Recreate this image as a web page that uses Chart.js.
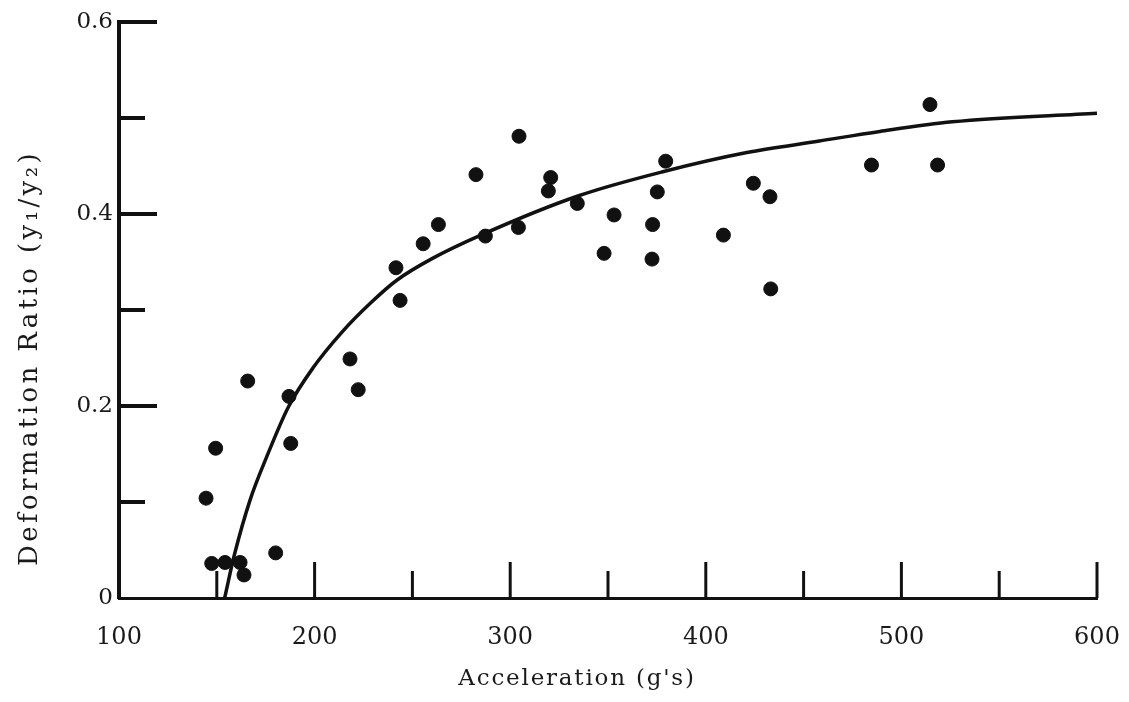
<!DOCTYPE html>
<html>
<head>
<meta charset="utf-8">
<title>Deformation Ratio vs Acceleration</title>
<script src="https://cdn.jsdelivr.net/npm/chart.js@4/dist/chart.umd.min.js"></script>
<style>
  html, body { margin: 0; padding: 0; background: #fff; }
  #wrap { width: 1129px; height: 702px; }
</style>
</head>
<body>
<div id="wrap"><canvas id="deformChart" width="1129" height="702"></canvas></div>
<script>
// ==== Data ====
// measured points: acceleration (g's) and deformation ratio y1/y2
const accelX = [144.5, 149.4, 147.4, 154.2, 161.9, 163.9, 165.8, 180.1, 186.9, 187.8,
  218.1, 222.3, 241.6, 243.7, 255.5, 263.3, 282.5, 287.3, 304.5, 304.2,
  320.7, 319.5, 334.3, 348.0, 353.1, 372.5, 372.8, 375.2, 379.5, 409.0,
  424.3, 432.8, 433.2, 484.7, 514.6, 518.5];
const ratioY = [0.104, 0.156, 0.036, 0.037, 0.037, 0.024, 0.226, 0.047, 0.210, 0.161,
  0.249, 0.217, 0.344, 0.310, 0.369, 0.389, 0.441, 0.377, 0.481, 0.386,
  0.438, 0.424, 0.411, 0.359, 0.399, 0.353, 0.389, 0.423, 0.455, 0.378,
  0.432, 0.418, 0.322, 0.451, 0.514, 0.451];

// faired curve drawn through the data
const curveX = [154, 159, 167, 175.5, 186.6, 199.3, 214, 229, 242, 260.5,
  285, 335, 378, 421, 458, 489, 526, 600];
const curveY = [0, 0.045, 0.102, 0.147, 0.199, 0.240, 0.277, 0.308, 0.331, 0.354,
  0.378, 0.419, 0.444, 0.464, 0.476, 0.486, 0.496, 0.505];

// axis ticks
const xTickLabels = [100, 200, 300, 400, 500, 600];
const yTickLabels = [0, 0.2, 0.4, 0.6];
const xMarks = [150, 200, 250, 300, 350, 400, 450, 500, 550, 600];
const yMarks = [0.1, 0.2, 0.3, 0.4, 0.5, 0.6];

const xTitle = "Acceleration (g's)";
const yTitle = 'Deformation Ratio (y\u2081/y\u2082)';

const INK = '#111';
Chart.defaults.font.family = "'DejaVu Serif', 'Liberation Serif', serif";
Chart.defaults.color = '#1a1a1a';

// inward tick marks, long on the labelled values
const innerTicks = {
  id: 'innerTicks',
  afterDatasetsDraw(chart) {
    const { ctx, chartArea, scales } = chart;
    ctx.save();
    ctx.strokeStyle = INK;
    ctx.lineCap = 'butt';

    ctx.lineWidth = 4;
    yMarks.forEach(v => {
      const y = scales.y.getPixelForValue(v);
      const major = yTickLabels.includes(v);
      ctx.beginPath();
      ctx.moveTo(chartArea.left, y);
      ctx.lineTo(chartArea.left + (major ? 38 : 26), y);
      ctx.stroke();
    });

    ctx.lineWidth = 3;
    xMarks.forEach(v => {
      const x = scales.x.getPixelForValue(v);
      const major = xTickLabels.includes(v);
      ctx.beginPath();
      ctx.moveTo(x, chartArea.bottom);
      ctx.lineTo(x, chartArea.bottom - (major ? 36 : 27));
      ctx.stroke();
    });
    ctx.restore();
  }
};

// axis titles, typewriter-ish spacing
const axisTitles = {
  id: 'axisTitles',
  afterDraw(chart) {
    const { ctx } = chart;
    ctx.save();
    ctx.fillStyle = '#1a1a1a';
    ctx.textAlign = 'center';
    ctx.textBaseline = 'middle';

    ctx.font = "23px 'DejaVu Serif', serif";
    ctx.letterSpacing = '1.8px';
    ctx.fillText(xTitle, 577, 679);

    ctx.translate(30, 358);
    ctx.rotate(-Math.PI / 2);
    ctx.font = "26px 'DejaVu Serif', serif";
    ctx.letterSpacing = '3.4px';
    ctx.fillText(yTitle, 0, 0);
    ctx.restore();
  }
};

new Chart(document.getElementById('deformChart'), {
  type: 'scatter',
  data: {
    datasets: [
      {
        label: 'Measured',
        data: accelX.map((x, i) => ({ x, y: ratioY[i] })),
        backgroundColor: INK,
        borderColor: INK,
        pointRadius: 7,
        pointHoverRadius: 7
      },
      {
        label: 'Curve',
        type: 'line',
        data: curveX.map((x, i) => ({ x, y: curveY[i] })),
        borderColor: INK,
        borderWidth: 3.5,
        pointRadius: 0,
        fill: false,
        cubicInterpolationMode: 'monotone'
      }
    ]
  },
  options: {
    responsive: false,
    animation: false,
    layout: { padding: { top: 22, right: 32, left: 0, bottom: 0 } },
    plugins: {
      legend: { display: false },
      tooltip: { enabled: false }
    },
    scales: {
      x: {
        type: 'linear',
        min: 100,
        max: 600,
        grid: { display: false, drawTicks: false },
        border: { display: true, color: INK, width: 3 },
        ticks: {
          stepSize: 100,
          padding: 25,
          font: { size: 24 },
          callback: v => xTickLabels.includes(v) ? String(v) : ''
        },
        afterFit: s => {
          s.height = 104;
          s.paddingLeft = 0;
          s.paddingRight = 0;
        }
      },
      y: {
        type: 'linear',
        min: 0,
        max: 0.6,
        grid: { display: false, drawTicks: false },
        border: { display: true, color: INK, width: 4 },
        ticks: {
          stepSize: 0.2,
          padding: 6,
          font: { size: 23 },
          callback: v => {
            const r = Math.round(v * 10) / 10;
            return r === 0 ? '0' : r.toFixed(1);
          }
        },
        afterFit: s => {
          s.width = 119;
          s.paddingTop = 0;
          s.paddingBottom = 0;
        }
      }
    }
  },
  plugins: [innerTicks, axisTitles]
});
</script>
</body>
</html>
